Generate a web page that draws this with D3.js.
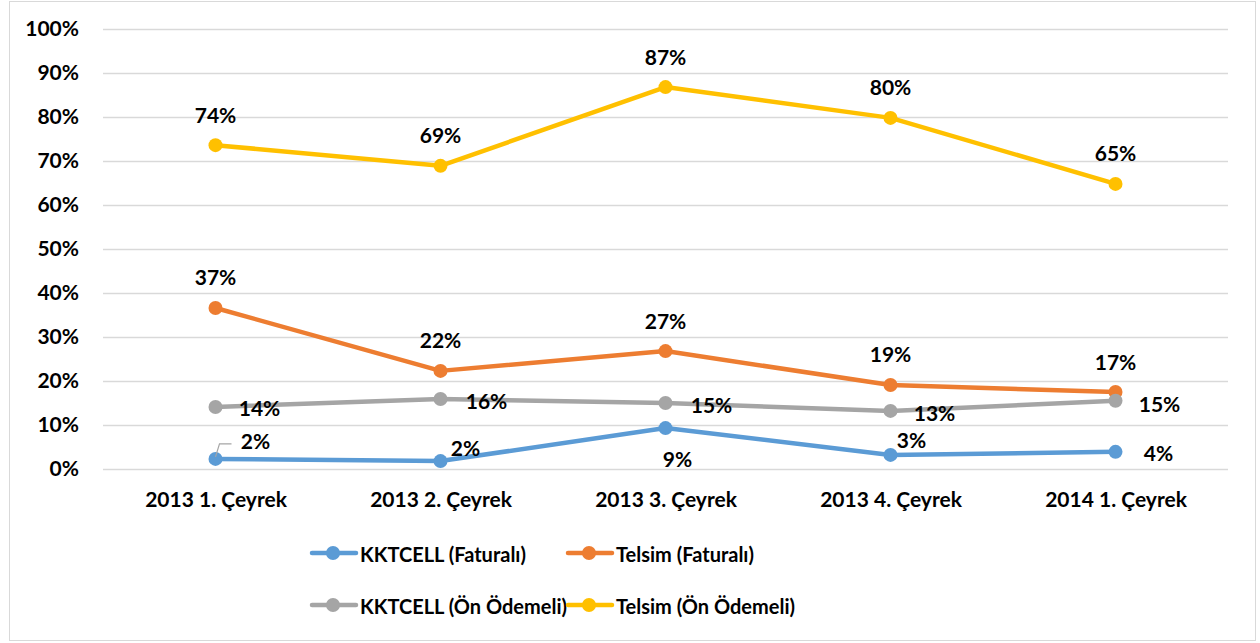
<!DOCTYPE html>
<html><head><meta charset="utf-8">
<script src="https://cdn.jsdelivr.net/npm/d3@7"></script>
<style>
body{margin:0;background:#fff;}
svg{display:block;font-family:Lato,"Open Sans",sans-serif;font-weight:bold;}
</style></head>
<body><svg id="c" width="1260" height="643"></svg>
<script>
const categories = ["2013 1. Çeyrek","2013 2. Çeyrek","2013 3. Çeyrek","2013 4. Çeyrek","2014 1. Çeyrek"];
const seriesNames = ["KKTCELL (Faturalı)","Telsim (Faturalı)","KKTCELL (Ön Ödemeli)","Telsim (Ön Ödemeli)"];
const kktcellFatural = [2.3, 1.8, 9.3, 3.2, 3.9];
const telsimFatural = [36.6, 22.3, 26.8, 19.1, 17.5];
const kktcellOnOdemeli = [14.1, 15.9, 15.0, 13.2, 15.5];
const telsimOnOdemeli = [73.6, 68.9, 86.8, 79.8, 64.8];
const valueLabels = [
  ["2%","2%","9%","3%","4%"],
  ["37%","22%","27%","19%","17%"],
  ["14%","16%","15%","13%","15%"],
  ["74%","69%","87%","80%","65%"]
];
const yTicks = [0,10,20,30,40,50,60,70,80,90,100];
const colors = ["#5B9BD5","#ED7D31","#A5A5A5","#FFC000"];

// label offsets (dx, dy) relative to point
const labelOffsets = [
  [[40,-18],[25,-14],[12,30],[21,-15],[43,1]],
  [[0,-31],[0,-31],[0,-31],[0,-31],[0,-31]],
  [[44,1],[46,1],[46,1],[44,2],[44,3]],
  [[0,-31],[0,-31],[0,-31],[0,-31],[0,-31]]
];

const series = [kktcellFatural, telsimFatural, kktcellOnOdemeli, telsimOnOdemeli];
const svg = d3.select("#c");

svg.append("rect").attr("x",9.5).attr("y",1.5).attr("width",1246).attr("height",639)
  .attr("fill","#fff").attr("stroke","#d9d9d9").attr("stroke-width",1);

const pLeft = 103, pRight = 1228, pTop = 29, pBottom = 469;
const x = d3.scalePoint().domain(categories).range([pLeft, pRight]).padding(0.5);
const y = d3.scaleLinear().domain([0,100]).range([pBottom, pTop]);

// grid
svg.append("g").selectAll("line").data(yTicks).join("line")
  .attr("x1",pLeft).attr("x2",pRight)
  .attr("y1",d=>y(d)+0.5).attr("y2",d=>y(d)+0.5)
  .attr("stroke","#d9d9d9").attr("stroke-width",1.3);

// y axis
const yAxis = svg.append("g").attr("transform",`translate(${pLeft},0)`)
  .call(d3.axisLeft(y).tickValues(yTicks).tickSize(0).tickPadding(24).tickFormat(d=>d+"%"));
yAxis.select(".domain").remove();
yAxis.selectAll("text").attr("font-size",21).attr("font-weight","bold").attr("font-family","Lato").attr("fill","#000");

// x axis
const xAxis = svg.append("g").attr("transform",`translate(0,${pBottom})`)
  .call(d3.axisBottom(x).tickSize(0).tickPadding(23));
xAxis.select(".domain").remove();
xAxis.selectAll("text").attr("font-size",21).attr("font-weight","bold").attr("font-family","Lato").attr("fill","#000");

const line = d3.line().x((d,i)=>x(categories[i])).y(d=>y(d));

series.forEach((s,si)=>{
  const g = svg.append("g");
  g.append("path").datum(s).attr("d",line).attr("fill","none")
    .attr("stroke",colors[si]).attr("stroke-width",4.5).attr("stroke-linejoin","round").attr("stroke-linecap","round");
  g.selectAll("circle").data(s).join("circle")
    .attr("cx",(d,i)=>x(categories[i])).attr("cy",d=>y(d)).attr("r",7).attr("fill",colors[si]);
});

// leader line for first blue label
{
  const px = x(categories[0]), py = y(kktcellFatural[0]);
  svg.append("polyline").attr("points",`${px},${py-2} ${px+4},${py-15} ${px+16},${py-15}`)
    .attr("fill","none").attr("stroke","#a5a5a5").attr("stroke-width",1.2);
}

series.forEach((s,si)=>{
  svg.append("g").selectAll("text").data(s).join("text")
    .attr("x",(d,i)=>x(categories[i])+labelOffsets[si][i][0])
    .attr("y",(d,i)=>y(d)+labelOffsets[si][i][1])
    .attr("text-anchor","middle").attr("dominant-baseline","central")
    .attr("font-size",21).attr("fill","#000")
    .text((d,i)=>valueLabels[si][i]);
});

// legend
const legendPos = [[312,553],[568,553],[312,605],[568,605]];
seriesNames.forEach((n,i)=>{
  const [lx,ly] = legendPos[i];
  const g = svg.append("g");
  g.append("line").attr("x1",lx).attr("x2",lx+44).attr("y1",ly).attr("y2",ly)
    .attr("stroke",colors[i]).attr("stroke-width",4.5).attr("stroke-linecap","round");
  g.append("circle").attr("cx",lx+21).attr("cy",ly).attr("r",7).attr("fill",colors[i]);
  g.append("text").attr("x",lx+48).attr("y",ly+1).attr("dominant-baseline","central")
    .attr("font-size",20).attr("fill","#000").text(n);
});
</script></body></html>
